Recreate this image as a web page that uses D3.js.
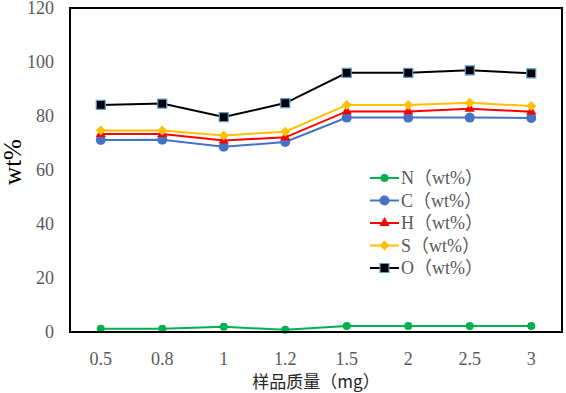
<!DOCTYPE html>
<html><head><meta charset="utf-8">
<script src="https://cdn.jsdelivr.net/npm/d3@7"></script>
<style>body{margin:0;background:#fff}svg{display:block}</style>
</head><body>
<svg id="c" width="566" height="393"></svg>
<script>
const categories = ["0.5","0.8","1","1.2","1.5","2","2.5","3"];
const N = [1.2,1.2,1.9,0.8,2.2,2.2,2.2,2.2];
const C = [71.1,71.2,68.6,70.4,79.4,79.4,79.4,79.3];
const H = [73.3,73.3,70.9,72.1,81.7,81.7,82.7,81.6];
const S = [74.6,74.6,72.8,74.2,84.1,84.1,84.9,83.7];
const O = [84.1,84.6,79.6,84.8,96.0,96.0,96.9,95.8];
const yTicks = [0,20,40,60,80,100,120];
const seriesNames = ["N（wt%）","C（wt%）","H（wt%）","S（wt%）","O（wt%）"];

const series = [
  {name:seriesNames[0], values:N, color:"#00B050", marker:"circle", size:4},
  {name:seriesNames[1], values:C, color:"#4472C4", marker:"circle", size:5},
  {name:seriesNames[2], values:H, color:"#FF0000", marker:"triangle", size:5},
  {name:seriesNames[3], values:S, color:"#FFC000", marker:"diamond", size:5},
  {name:seriesNames[4], values:O, color:"#000000", marker:"square", size:4.5}
];

const svg = d3.select("#c");
const L=70,R=562,T=8,B=332;
const x = d3.scaleBand().domain(categories).range([L,R]);
const y = d3.scaleLinear().domain([0,120]).range([B,T]);
const font = "'Liberation Serif','Times New Roman',serif";

const ya = svg.append("g").attr("transform",`translate(${L},0)`)
  .call(d3.axisLeft(y).tickValues(yTicks).tickSize(0).tickPadding(16));
ya.select(".domain").remove();
ya.selectAll("text").attr("font-family",font).attr("font-size",18).attr("fill","#595959");

const xa = svg.append("g").attr("transform",`translate(0,${B})`)
  .call(d3.axisBottom(x).tickSize(0).tickPadding(20));
xa.select(".domain").remove();
xa.selectAll("text").attr("font-family",font).attr("font-size",18).attr("fill","#595959");

function markerPath(type, s){
  if(type==="circle") return d3.symbol(d3.symbolCircle, Math.PI*s*s)();
  if(type==="triangle") return d3.symbol(d3.symbolTriangle, s*s*1.8)();
  if(type==="diamond") return `M0,${-s}L${s},0L0,${s}L${-s},0Z`;
  if(type==="square") return `M${-s},${-s}H${s}V${s}H${-s}Z`;
}

const line = d3.line().x((d,i)=>x(categories[i])+x.bandwidth()/2).y(d=>y(d));
series.forEach(s=>{
  svg.append("path").attr("d",line(s.values)).attr("fill","none")
    .attr("stroke",s.color).attr("stroke-width",2);
  svg.selectAll(null).data(s.values).enter().append("path")
    .attr("transform",(d,i)=>`translate(${x(categories[i])+x.bandwidth()/2},${y(d)})`)
    .attr("d",markerPath(s.marker,s.size))
    .attr("fill",s.color)
    .attr("stroke",s.marker==="square"?"#5B9BD5":"none")
    .attr("stroke-width",1.2);
});

svg.append("rect").attr("x",L).attr("y",T).attr("width",R-L).attr("height",B-T)
  .attr("fill","none").attr("stroke","#000").attr("stroke-width",2);

const lg = svg.append("g");
series.forEach((s,i)=>{
  const yy = 178 + i*22.5;
  lg.append("line").attr("x1",370).attr("x2",399).attr("y1",yy).attr("y2",yy)
    .attr("stroke",s.color).attr("stroke-width",2);
  lg.append("path").attr("transform",`translate(384.5,${yy})`).attr("d",markerPath(s.marker,s.size))
    .attr("fill",s.color).attr("stroke",s.marker==="square"?"#5B9BD5":"none").attr("stroke-width",1.2);
  lg.append("text").attr("x",401).attr("y",yy).attr("dy","0.35em")
    .attr("font-family",font+",'Noto Sans CJK SC'").attr("font-size",18).attr("fill","#595959")
    .text(s.name);
});

svg.append("text").attr("transform",`translate(21,162) rotate(-90)`).attr("text-anchor","middle")
  .attr("font-family",font).attr("font-size",25).attr("fill","#000").text("wt%");
svg.append("text").attr("x",316).attr("y",388).attr("text-anchor","middle")
  .attr("font-family","'Noto Sans CJK SC','Liberation Serif',serif").attr("font-size",17).attr("fill","#262626")
  .text("样品质量（mg）");
</script>
</body></html>
